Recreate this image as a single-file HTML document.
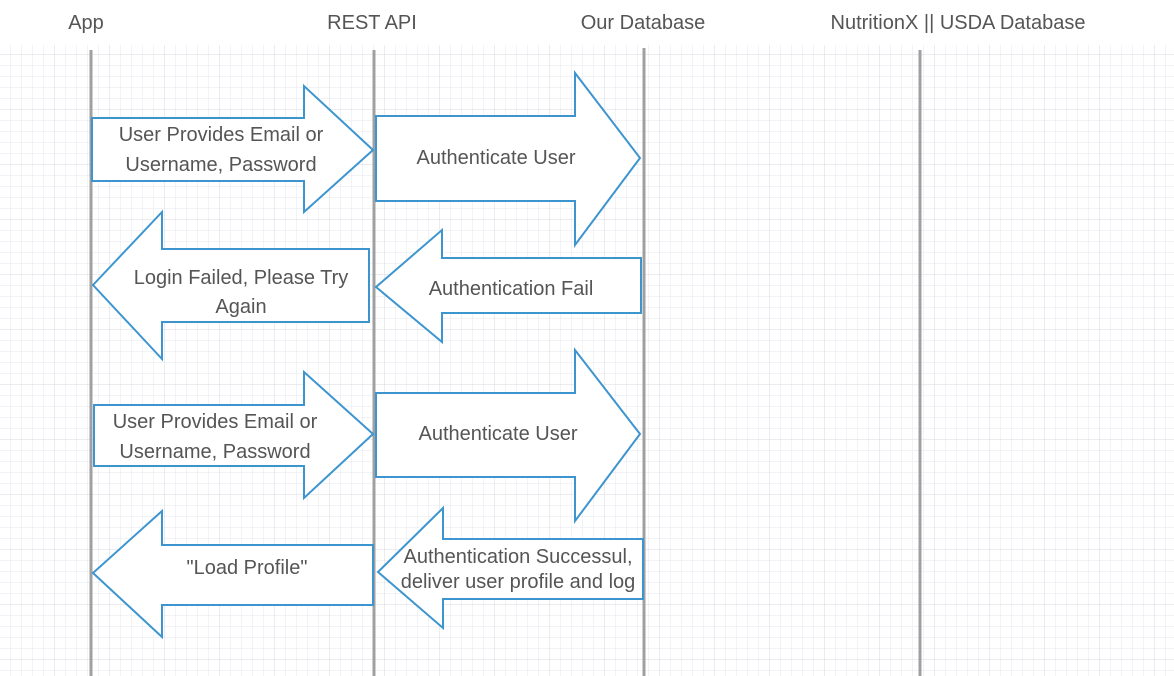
<!DOCTYPE html>
<html><head><style>
html,body{margin:0;padding:0;background:#fff}
svg{display:block}
text{font-family:"Liberation Sans",sans-serif;fill:#555;font-size:20px}
</style></head><body>
<svg width="1174" height="676" xmlns="http://www.w3.org/2000/svg">
<defs>
<pattern id="g" width="11" height="11" patternUnits="userSpaceOnUse">
<path d="M11 0V11H0" fill="none" stroke="#e6e7ee" stroke-width="1"/>
</pattern>
<pattern id="G" width="55" height="55" patternUnits="userSpaceOnUse">
<rect width="55" height="55" fill="url(#g)"/>
<path d="M55 0V55H0" fill="none" stroke="#d8d9e2" stroke-width="1"/>
</pattern>
</defs>
<rect x="0" y="45" width="1174" height="631" fill="url(#G)"/>
<g font-size="20">
<text x="86" y="29" text-anchor="middle">App</text>
<text x="372" y="29" text-anchor="middle">REST API</text>
<text x="643" y="29" text-anchor="middle">Our Database</text>
<text x="958" y="29" text-anchor="middle">NutritionX || USDA Database</text>
</g>
<g stroke="#a0a0a0" stroke-width="3">
<line x1="91" y1="50" x2="91" y2="676"/>
<line x1="374" y1="50" x2="374" y2="676"/>
<line x1="644" y1="48" x2="644" y2="676"/>
<line x1="920" y1="50" x2="920" y2="676"/>
</g>
<g fill="#fff" stroke="#3d95cf" stroke-width="2">
<polygon points="92,118 304,118 304,86 373,150 304,212 304,181 92,181"/>
<polygon points="376,116 575,116 575,73 640,158 575,245 575,201 376,201"/>
<polygon points="93,285 162,212 162,249 369,249 369,322 162,322 162,359"/>
<polygon points="376,287 442,230 442,258 641,258 641,313 442,313 442,342"/>
<polygon points="94,405 304,405 304,372 373,434 304,498 304,466 94,466"/>
<polygon points="376,393 575,393 575,350 640,434 575,521 575,477 376,477"/>
<polygon points="93,573 162,511 162,545 373,545 373,605 162,605 162,637"/>
<polygon points="378,572 443,508 443,539 643,539 643,599 443,599 443,628"/>
</g>
<g text-anchor="middle">
<text x="221" y="141">User Provides Email or</text>
<text x="221" y="171">Username, Password</text>
<text x="496" y="164">Authenticate User</text>
<text x="241" y="284">Login Failed, Please Try</text>
<text x="241" y="313">Again</text>
<text x="511" y="295">Authentication Fail</text>
<text x="215" y="428">User Provides Email or</text>
<text x="215" y="458">Username, Password</text>
<text x="498" y="440">Authenticate User</text>
<text x="247" y="574">"Load Profile"</text>
<text x="518" y="563" font-size="16">Authentication Successul,</text>
<text x="518" y="588" font-size="16">deliver user profile and log</text>
</g>
</svg>
</body></html>
